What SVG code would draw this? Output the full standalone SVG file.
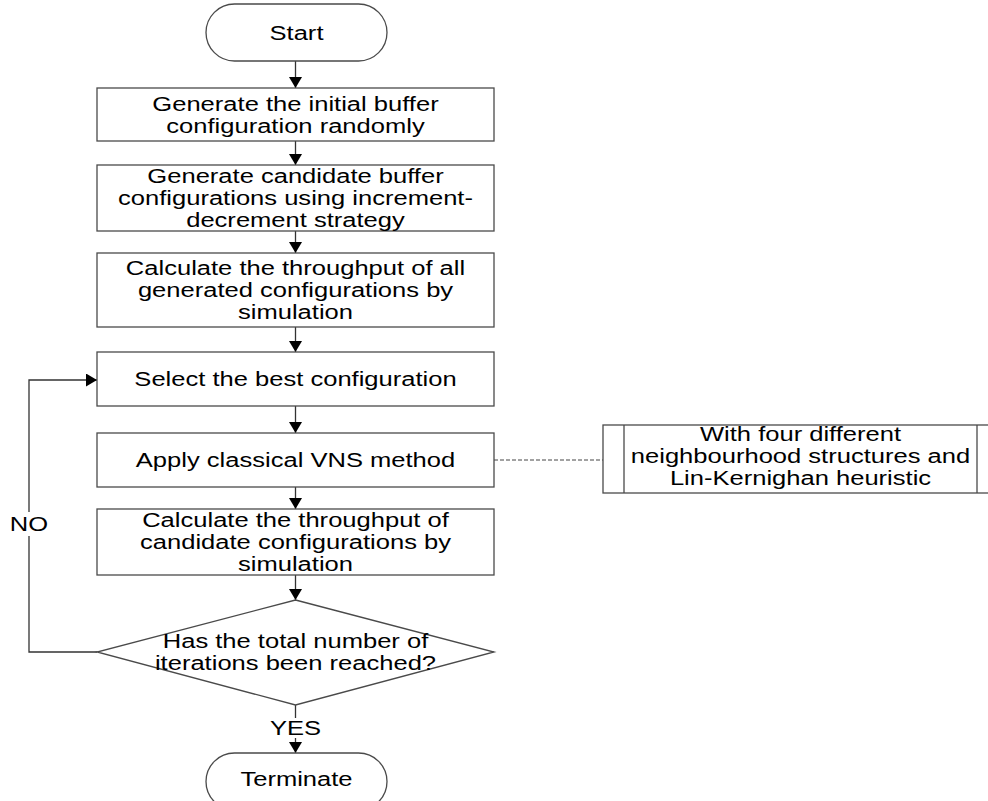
<svg xmlns="http://www.w3.org/2000/svg" width="988" height="801" viewBox="0 0 988 801">
  <style>
    .shape { fill: #ffffff; stroke: #4a4a4a; stroke-width: 1.3; }
    .lbl { font-family: "Liberation Sans", Arial, sans-serif; font-size: 19.5px; fill: #000000; text-anchor: middle; }
    .edge { fill: none; stroke: #333333; stroke-width: 1.3; }
    .dash { fill: none; stroke: #444444; stroke-width: 1; stroke-dasharray: 4 2; }
  </style>
  <defs>
    <marker id="arrow" markerUnits="userSpaceOnUse" markerWidth="12" markerHeight="13" refX="11" refY="6.5" orient="auto">
      <path d="M0,0 L11,6.5 L0,13 z" fill="#000000"/>
    </marker>
  </defs>
  <rect width="988" height="801" fill="#ffffff"/>

  <!-- connectors -->
  <g id="connectors">
    <line class="edge" x1="295.5" y1="61" x2="295.5" y2="88" marker-end="url(#arrow)"/>
    <line class="edge" x1="295.5" y1="141" x2="295.5" y2="165" marker-end="url(#arrow)"/>
    <line class="edge" x1="295.5" y1="231" x2="295.5" y2="253" marker-end="url(#arrow)"/>
    <line class="edge" x1="295.5" y1="327" x2="295.5" y2="352" marker-end="url(#arrow)"/>
    <line class="edge" x1="295.5" y1="406" x2="295.5" y2="433" marker-end="url(#arrow)"/>
    <line class="edge" x1="295.5" y1="487" x2="295.5" y2="509" marker-end="url(#arrow)"/>
    <line class="edge" x1="295.5" y1="575" x2="295.5" y2="600" marker-end="url(#arrow)"/>
    <!-- YES branch -->
    <line class="edge" x1="295.5" y1="705" x2="295.5" y2="718"/>
    <line class="edge" x1="295.5" y1="738" x2="295.5" y2="753" marker-end="url(#arrow)"/>
    <text class="lbl" transform="translate(295.5 735) scale(1.31 1)">YES</text>
    <!-- NO loop back to selection -->
    <polyline class="edge" points="97,652 29,652 29,536"/>
    <polyline class="edge" points="29,512 29,380 97,380" marker-end="url(#arrow)"/>
    <text class="lbl" transform="translate(29 531) scale(1.31 1)">NO</text>
    <!-- annotation link -->
    <line class="dash" x1="494" y1="460" x2="603" y2="460"/>
  </g>

  <g id="start">
    <rect class="shape" x="206" y="4" width="181" height="57" rx="28.5" ry="28.5"/>
    <text class="lbl" transform="translate(296.5 39.5) scale(1.31 1)">Start</text>
  </g>

  <g id="init">
    <rect class="shape" x="97" y="88" width="397" height="53"/>
    <text class="lbl" transform="translate(295.5 110.5) scale(1.31 1)">Generate the initial buffer</text>
    <text class="lbl" transform="translate(295.5 132.5) scale(1.31 1)">configuration randomly</text>
  </g>

  <g id="candidates">
    <rect class="shape" x="97" y="165" width="397" height="66"/>
    <text class="lbl" transform="translate(295.5 182.5) scale(1.31 1)">Generate candidate buffer</text>
    <text class="lbl" transform="translate(295.5 204.5) scale(1.31 1)">configurations using increment-</text>
    <text class="lbl" transform="translate(295.5 226.5) scale(1.31 1)">decrement strategy</text>
  </g>

  <g id="throughput-all">
    <rect class="shape" x="97" y="253" width="397" height="74"/>
    <text class="lbl" transform="translate(295.5 275) scale(1.31 1)">Calculate the throughput of all</text>
    <text class="lbl" transform="translate(295.5 297) scale(1.31 1)">generated configurations by</text>
    <text class="lbl" transform="translate(295.5 319) scale(1.31 1)">simulation</text>
  </g>

  <g id="select">
    <rect class="shape" x="97" y="352" width="397" height="54"/>
    <text class="lbl" transform="translate(295.5 386) scale(1.31 1)">Select the best configuration</text>
  </g>

  <g id="vns">
    <rect class="shape" x="97" y="433" width="397" height="54"/>
    <text class="lbl" transform="translate(295.5 467) scale(1.31 1)">Apply classical VNS method</text>
  </g>

  <g id="vns-detail">
    <rect class="shape" x="603" y="425" width="400" height="68"/>
    <line class="shape" x1="624" y1="425" x2="624" y2="493"/>
    <line class="shape" x1="977" y1="425" x2="977" y2="493"/>
    <text class="lbl" transform="translate(800.5 441) scale(1.31 1)">With four different</text>
    <text class="lbl" transform="translate(800.5 463) scale(1.31 1)">neighbourhood structures and</text>
    <text class="lbl" transform="translate(800.5 485) scale(1.31 1)">Lin-Kernighan heuristic</text>
  </g>

  <g id="throughput-candidates">
    <rect class="shape" x="97" y="509" width="397" height="66"/>
    <text class="lbl" transform="translate(295.5 526.5) scale(1.31 1)">Calculate the throughput of</text>
    <text class="lbl" transform="translate(295.5 548.5) scale(1.31 1)">candidate configurations by</text>
    <text class="lbl" transform="translate(295.5 570.5) scale(1.31 1)">simulation</text>
  </g>

  <g id="check">
    <polygon class="shape" points="295.5,600 494,652 295.5,705 97,652"/>
    <text class="lbl" transform="translate(295.5 647.5) scale(1.31 1)">Has the total number of</text>
    <text class="lbl" transform="translate(295.5 669.5) scale(1.31 1)">iterations been reached?</text>
  </g>

  <g id="terminate">
    <rect class="shape" x="206" y="753" width="181" height="57" rx="28.5" ry="28.5"/>
    <text class="lbl" transform="translate(296.5 786) scale(1.31 1)">Terminate</text>
  </g>
</svg>
